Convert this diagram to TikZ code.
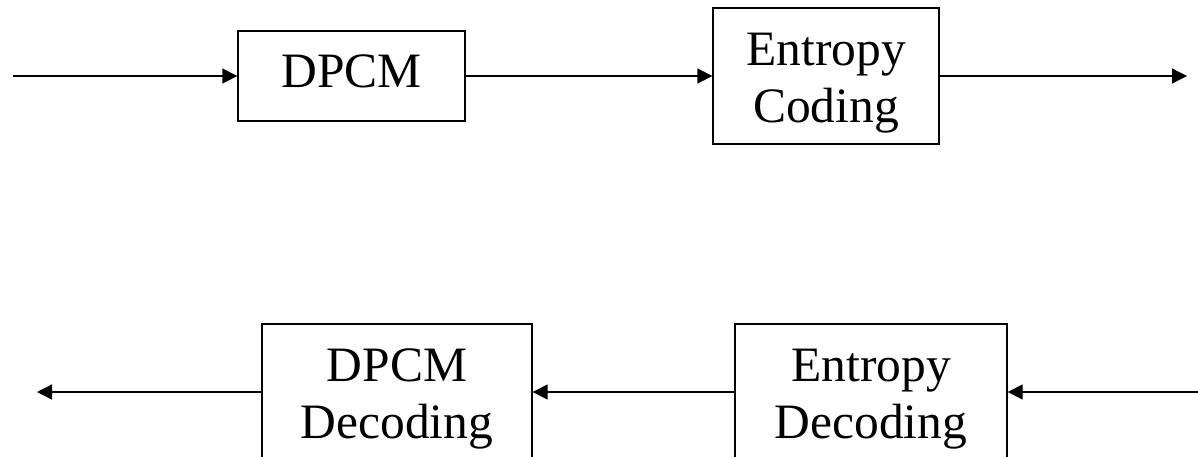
\documentclass[tikz,border=0pt]{standalone}
\usepackage{fontspec}
\setmainfont{Liberation Serif}
\usetikzlibrary{arrows.meta}
\newcommand{\topstrut}{\rule{0pt}{46pt}}
\newcommand{\botstrut}{\rule[-9pt]{0pt}{9pt}}
\begin{document}
\begin{tikzpicture}[x=1pt,y=-1pt,
  blk/.style={draw, line width=1.3pt, rectangle, inner sep=0pt, align=center,
    font=\fontsize{49.5}{57}\selectfont},
  conn/.style={line width=1.3pt, -{Triangle[length=15pt,width=15pt]}}]
\useasboundingbox (0,0) rectangle (1198,456);
\node[blk, minimum width=227pt, minimum height=90pt] (dpcm) at (351.5,76) {DPCM\botstrut};
\node[blk, minimum width=226pt, minimum height=136pt] (ec) at (826,76) {\topstrut Entropy\\Coding};
\node[blk, minimum width=270pt, minimum height=136pt] (dd) at (397,392) {\topstrut DPCM\\Decoding};
\node[blk, minimum width=272pt, minimum height=136pt] (ed) at (871,392) {\topstrut Entropy\\Decoding};
\coordinate (in) at (13,76);
\coordinate (out) at (1187,76);
\coordinate (bin) at (1200,392);
\coordinate (bout) at (37,392);
\draw[conn] (in) -- (dpcm.west);
\draw[conn] (dpcm.east) -- (ec.west);
\draw[conn] (ec.east) -- (out);
\draw[conn] (bin) -- (ed.east);
\draw[conn] (ed.west) -- (dd.east);
\draw[conn] (dd.west) -- (bout);
\end{tikzpicture}
\end{document}
